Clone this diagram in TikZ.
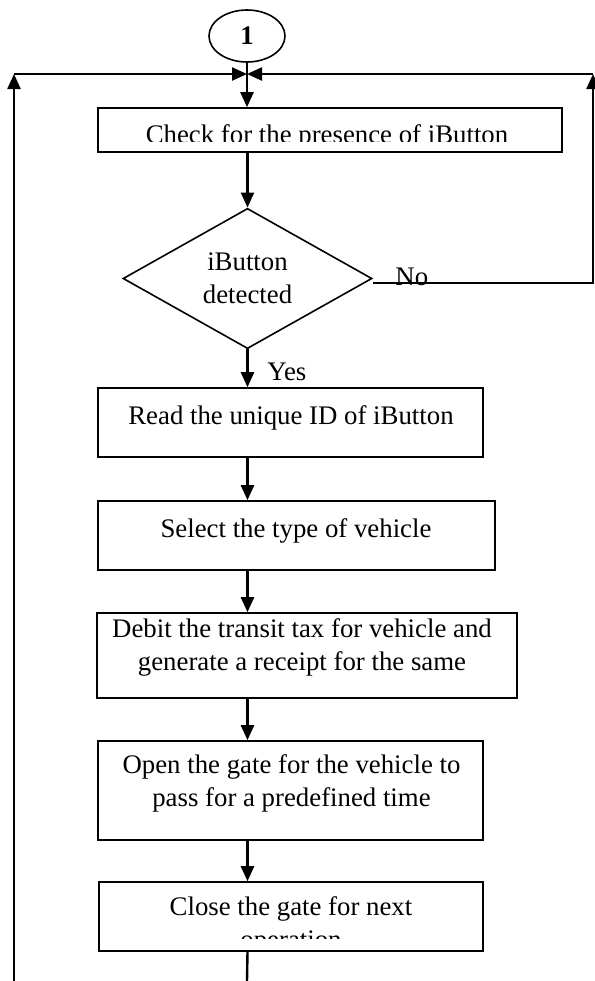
\documentclass[tikz,border=0pt]{standalone}
\usepackage{fontspec}
\setmainfont{Liberation Serif}
\usepackage{tikz}
\usetikzlibrary{arrows.meta,shapes.geometric,calc}
\newcommand{\flowfont}{\fontsize{13.4}{16.5}\selectfont}
\tikzset{
  procbox/.style={draw,line width=0.8pt,rectangle,inner sep=0pt},
  decision/.style={draw,line width=0.8pt,diamond,inner sep=0pt,align=center,font=\flowfont},
  boxtext/.style={inner sep=0pt,align=center,font=\flowfont},
  flow/.style={line width=1.2pt,-{Triangle[length=7.5pt,width=6.5pt]}},
  plain/.style={line width=1.2pt}
}

\begin{document}
\begin{tikzpicture}[x=0.5pt,y=-0.5pt]
  \useasboundingbox (0,0) rectangle (595,981);

  % Connector circle and loop corners
  \node[draw,ellipse,line width=0.8pt,minimum width=38pt,minimum height=26pt,
        inner sep=0pt,font=\flowfont\bfseries] (c1) at (247,36) {1};
  \coordinate (junc) at (247,74);
  \coordinate (ltop) at (14,74);
  \coordinate (lbot) at (14,981);
  \coordinate (rtop) at (593,74);
  \coordinate (rno) at (593,283);
  \coordinate (cbot) at (247,981);

  % Boxes
  \node[procbox,minimum width=232pt,minimum height=22pt] (check) at (330,130) {};
  \node[decision,minimum width=124.5pt,minimum height=66.5pt] (dec) at (247.5,278.5)
       {iButton\\detected};
  \node[procbox,minimum width=192.5pt,minimum height=34.5pt] (read) at (290.5,422.5) {};
  \node[procbox,minimum width=198.5pt,minimum height=34.5pt] (select) at (296.5,535.5) {};
  \node[procbox,minimum width=210pt,minimum height=42.5pt] (debit) at (307,655.5) {};
  \node[procbox,minimum width=192.5pt,minimum height=49.5pt] (open) at (290.5,790.5) {};
  \node[procbox,minimum width=192pt,minimum height=34.5pt] (close) at (291,916.5) {};

  % Box texts
  \begin{scope}
    \clip (98,108) rectangle (562,141.5);
    \node[boxtext,anchor=base] (tcheck) at (327,143) {Check for the presence of iButton};
  \end{scope}
  \node[boxtext] (tread) at (291,418) {Read the unique ID of iButton};
  \node[boxtext] (tselect) at (296,531) {Select the type of vehicle};
  \node[boxtext] (tdebit) at (302,647.4)
       {Debit the transit tax for vehicle and\\generate a receipt for the same};
  \node[boxtext] (topen) at (291.5,783.4)
       {Open the gate for the vehicle to\\pass for a predefined time};
  \begin{scope}
    \clip (99,882) rectangle (483,938);
    \node[boxtext] (tclose) at (291,925.4) {Close the gate for next\\operation};
  \end{scope}

  % Labels
  \node[boxtext,anchor=base west] (yes) at (267,380) {Yes};
  \node[boxtext,anchor=base west] (no) at (395,285) {No};

  % Connectors
  \draw[flow] (c1.south) -- (c1.south |- check.north);
  \draw[flow] (ltop) -- (junc);
  \draw[flow] (rtop) -- (junc);
  \draw[flow] (lbot) -- (ltop);
  \draw[flow] (check.south -| dec) -- (dec.north);
  \draw[flow] (dec.east |- rno) -- (rno) -- (rtop);
  \draw[flow] (dec.south) -- (dec.south |- read.north);
  \draw[flow] (read.south -| dec) -- (select.north -| dec);
  \draw[flow] (select.south -| dec) -- (debit.north -| dec);
  \draw[flow] (debit.south -| dec) -- (open.north -| dec);
  \draw[flow] (open.south -| dec) -- (close.north -| dec);
  \draw[plain] (close.south -| dec) -- (cbot);
\end{tikzpicture}
\end{document}
